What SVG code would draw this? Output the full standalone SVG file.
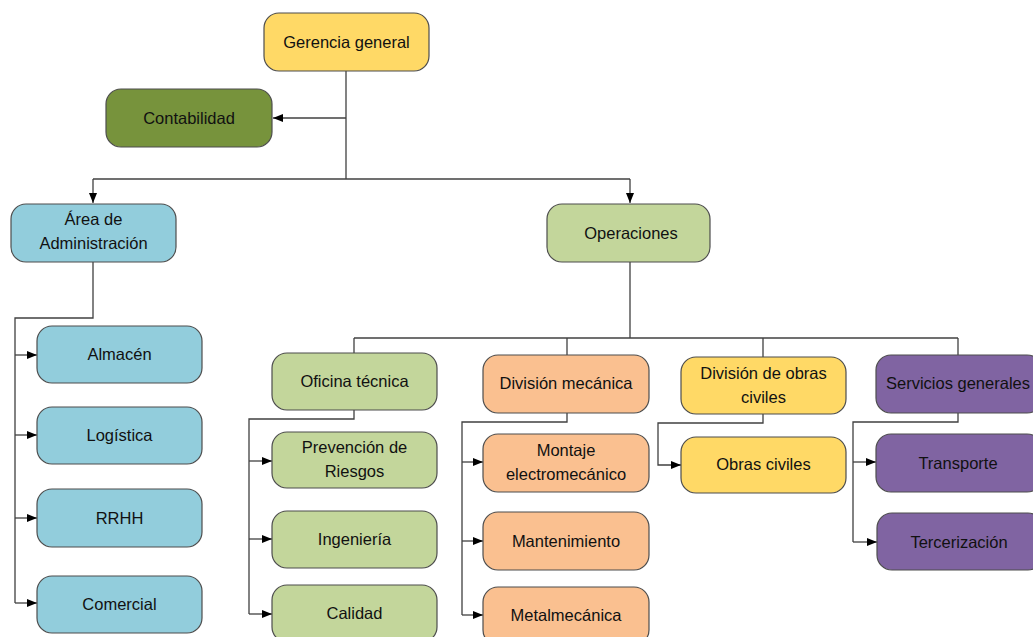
<svg xmlns="http://www.w3.org/2000/svg" width="1033" height="637" viewBox="0 0 1033 637">
<defs>
<marker id="ah" viewBox="0 0 10 10" refX="10" refY="5" markerWidth="10" markerHeight="10" markerUnits="userSpaceOnUse" orient="auto">
<path d="M0,1 L10,5 L0,9 Z" fill="#000"/>
</marker>
<style>
.n rect{stroke:#4d4d4d;stroke-width:1.2}
.n text{font-family:"Liberation Sans",Arial,sans-serif;font-size:16.5px;fill:#111;text-anchor:middle}
.yel{fill:#FFD966}.olv{fill:#77933C}.blu{fill:#92CDDC}.grn{fill:#C3D69B}.org{fill:#FAC090}.pur{fill:#8064A2}
#conn path{fill:none;stroke:#404040;stroke-width:1.3}
</style>
</defs>
<rect width="1033" height="637" fill="#fff"/>
<g id="conn">
<path d="M346,71 V179"/>
<path d="M346,118 H273" marker-end="url(#ah)"/>
<path d="M93,179 H630"/>
<path d="M93,179 V203" marker-end="url(#ah)"/>
<path d="M630,179 V203" marker-end="url(#ah)"/>
<path d="M93,262 V318 H15 V603"/>
<path d="M15,355 H37" marker-end="url(#ah)"/>
<path d="M15,435 H37" marker-end="url(#ah)"/>
<path d="M15,518 H37" marker-end="url(#ah)"/>
<path d="M15,603 H37" marker-end="url(#ah)"/>
<path d="M630,262 V338"/>
<path d="M354,338 H958"/>
<path d="M354,338 V353"/>
<path d="M567,338 V355"/>
<path d="M763,338 V357"/>
<path d="M958,338 V355"/>
<path d="M354,410 V419 H249 V614"/>
<path d="M249,461 H272" marker-end="url(#ah)"/>
<path d="M249,539 H272" marker-end="url(#ah)"/>
<path d="M249,614 H272" marker-end="url(#ah)"/>
<path d="M567,413 V422 H462 V615"/>
<path d="M462,462 H483" marker-end="url(#ah)"/>
<path d="M462,541 H483" marker-end="url(#ah)"/>
<path d="M462,615 H483" marker-end="url(#ah)"/>
<path d="M763,414 V423 H658 V465 H681" marker-end="url(#ah)"/>
<path d="M958,413 V422 H853 V542"/>
<path d="M853,462 H876" marker-end="url(#ah)"/>
<path d="M853,542 H877" marker-end="url(#ah)"/>
</g>
<g id="gerencia" class="n"><rect class="yel" x="264" y="13" width="165" height="58" rx="15"/><text x="346.5" y="48">Gerencia general</text></g>
<g id="contabilidad" class="n"><rect class="olv" x="106" y="89" width="166" height="58" rx="15"/><text x="189" y="124">Contabilidad</text></g>
<g id="administracion" class="n"><rect class="blu" x="11" y="204" width="165" height="58" rx="15"/><text x="93.5" y="225">Área de</text><text x="93.5" y="249">Administración</text></g>
<g id="operaciones" class="n"><rect class="grn" x="547" y="204" width="163" height="58" rx="15"/><text x="631" y="239">Operaciones</text></g>
<g id="almacen" class="n"><rect class="blu" x="37" y="326" width="165" height="57" rx="15"/><text x="119.5" y="360">Almacén</text></g>
<g id="logistica" class="n"><rect class="blu" x="37" y="407" width="165" height="57" rx="15"/><text x="119.5" y="441">Logística</text></g>
<g id="rrhh" class="n"><rect class="blu" x="37" y="489" width="165" height="58" rx="15"/><text x="119.5" y="524">RRHH</text></g>
<g id="comercial" class="n"><rect class="blu" x="37" y="576" width="165" height="57" rx="15"/><text x="119.5" y="610">Comercial</text></g>
<g id="oficina" class="n"><rect class="grn" x="272" y="353" width="165" height="57" rx="15"/><text x="354.5" y="387">Oficina técnica</text></g>
<g id="prevencion" class="n"><rect class="grn" x="272" y="432" width="165" height="56" rx="15"/><text x="354.5" y="453">Prevención de</text><text x="354.5" y="477">Riesgos</text></g>
<g id="ingenieria" class="n"><rect class="grn" x="272" y="511" width="165" height="57" rx="15"/><text x="354.5" y="545">Ingeniería</text></g>
<g id="calidad" class="n"><rect class="grn" x="272" y="585" width="165" height="57" rx="15"/><text x="354.5" y="619">Calidad</text></g>
<g id="mecanica" class="n"><rect class="org" x="483" y="355" width="166" height="58" rx="15"/><text x="566" y="389">División mecánica</text></g>
<g id="montaje" class="n"><rect class="org" x="483" y="434" width="166" height="58" rx="15"/><text x="566" y="456">Montaje</text><text x="566" y="480">electromecánico</text></g>
<g id="mantenimiento" class="n"><rect class="org" x="483" y="512" width="166" height="58" rx="15"/><text x="566" y="547">Mantenimiento</text></g>
<g id="metalmecanica" class="n"><rect class="org" x="483" y="587" width="166" height="58" rx="15"/><text x="566" y="621">Metalmecánica</text></g>
<g id="obrasdiv" class="n"><rect class="yel" x="681" y="357" width="165" height="57" rx="15"/><text x="763.5" y="379">División de obras</text><text x="763.5" y="403">civiles</text></g>
<g id="obras" class="n"><rect class="yel" x="681" y="437" width="165" height="56" rx="15"/><text x="763.5" y="470">Obras civiles</text></g>
<g id="servicios" class="n"><rect class="pur" x="876" y="355" width="166" height="58" rx="15"/><text x="958" y="389">Servicios generales</text></g>
<g id="transporte" class="n"><rect class="pur" x="876" y="434" width="166" height="58" rx="15"/><text x="958" y="469">Transporte</text></g>
<g id="tercerizacion" class="n"><rect class="pur" x="877" y="513" width="166" height="57" rx="15"/><text x="959" y="548">Tercerización</text></g>
</svg>
